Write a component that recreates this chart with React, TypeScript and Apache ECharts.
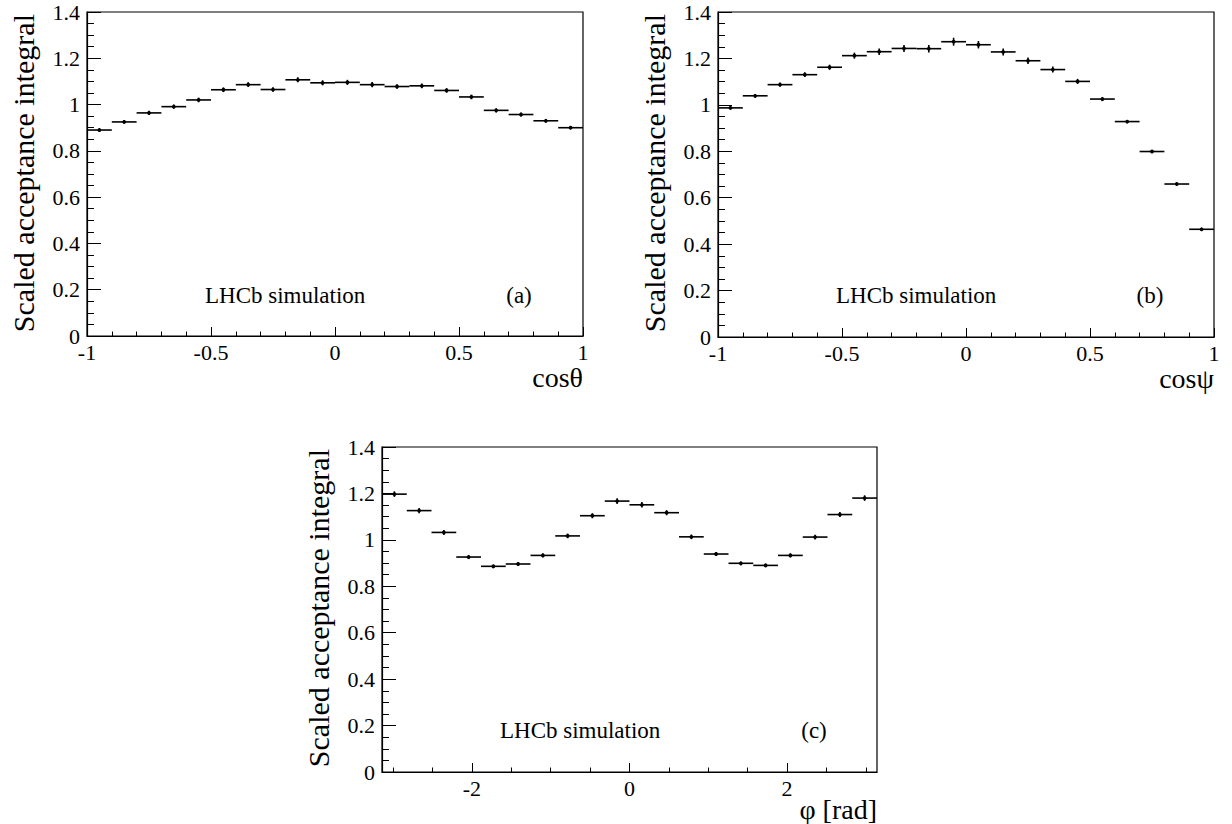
import React, { useEffect, useRef } from "react";
import * as echarts from "echarts";

const FONT = "'Liberation Serif', 'Times New Roman', Times, serif";

// ---- bins ----
const cosBinLow = [-1.0, -0.9, -0.8, -0.7, -0.6, -0.5, -0.4, -0.3, -0.2, -0.1, 0.0, 0.1, 0.2, 0.3, 0.4, 0.5, 0.6, 0.7, 0.8, 0.9];
const cosBinWidth = 0.1;
const phiNBins = 20;
const phiBinWidth = (2 * Math.PI) / phiNBins;
const phiBinLow = Array.from({ length: phiNBins }, (_, i) => -Math.PI + i * phiBinWidth);

// ---- values ----
const accCosTheta = [0.890, 0.925, 0.964, 0.991, 1.020, 1.064, 1.086, 1.065, 1.107, 1.094, 1.096, 1.086, 1.078, 1.081, 1.061, 1.033, 0.975, 0.957, 0.930, 0.900];
const errCosTheta = [0.008, 0.008, 0.009, 0.009, 0.010, 0.010, 0.010, 0.010, 0.011, 0.011, 0.011, 0.011, 0.010, 0.010, 0.010, 0.010, 0.009, 0.009, 0.008, 0.007];

const accCosPsi = [0.987, 1.039, 1.087, 1.130, 1.162, 1.212, 1.229, 1.243, 1.242, 1.272, 1.259, 1.228, 1.190, 1.152, 1.101, 1.025, 0.928, 0.799, 0.659, 0.464];
const errCosPsi = [0.007, 0.008, 0.009, 0.010, 0.011, 0.013, 0.014, 0.015, 0.016, 0.017, 0.016, 0.015, 0.014, 0.013, 0.011, 0.009, 0.007, 0.005, 0.004, 0.003];

const accPhi = [1.197, 1.126, 1.032, 0.926, 0.886, 0.896, 0.933, 1.017, 1.104, 1.167, 1.151, 1.117, 1.013, 0.939, 0.899, 0.890, 0.933, 1.012, 1.109, 1.180];
const errPhi = [0.012, 0.011, 0.011, 0.009, 0.008, 0.008, 0.009, 0.010, 0.011, 0.012, 0.012, 0.011, 0.010, 0.009, 0.008, 0.008, 0.009, 0.010, 0.011, 0.012];

// ---- ticks / labels ----
const yTicks = { min: 0, max: 1.4, interval: 0.2 };
const phiMajorTicks = [-2, 0, 2];
const phiMinorTicks = [-3, -2.5, -1.5, -1, -0.5, 0.5, 1, 1.5, 2.5, 3];

const yTitle = "Scaled acceptance integral";
const panelLabels = ["(a)", "(b)", "(c)"];
const xTitles = ["cos\u03b8", "cos\u03c8", "\u03c6 [rad]"];
const simText = "LHCb simulation";

// ---- layout ----
const panels = [
  { left: 87, top: 12, width: 496, height: 324, xTitleGap: 41 },
  { left: 718, top: 12, width: 496, height: 325, xTitleGap: 41 },
  { left: 382, top: 447, width: 495, height: 325, xTitleGap: 37 },
];

const LABEL_SIZE = 22;
const TITLE_SIZE = 28;
const Y_TITLE_SIZE = 30;

function binData(lows: number[], width: number, vals: number[], errs: number[]) {
  return lows.map((lo, i) => [lo, lo + width, vals[i], errs[i]]);
}

const renderItem = (params: any, api: any) => {
  const lo = api.value(0);
  const hi = api.value(1);
  const y = api.value(2);
  const e = api.value(3);
  const mid = (lo + hi) / 2;
  const p1 = api.coord([lo, y]);
  const p2 = api.coord([hi, y]);
  const pt = api.coord([mid, y]);
  const up = api.coord([mid, y + e]);
  const dn = api.coord([mid, y - e]);
  return {
    type: "group",
    children: [
      { type: "line", shape: { x1: p1[0], y1: p1[1], x2: p2[0], y2: p2[1] }, style: { stroke: "#000", lineWidth: 1.6 } },
      { type: "line", shape: { x1: pt[0], y1: up[1], x2: pt[0], y2: dn[1] }, style: { stroke: "#000", lineWidth: 1.6 } },
      { type: "circle", shape: { cx: pt[0], cy: pt[1], r: 1.9 }, style: { fill: "#000" } },
    ],
  };
};

const axisLineStyle = { show: true, onZero: false, lineStyle: { color: "#000", width: 1.2 } };

function cosXAxis(gridIndex: number) {
  return {
    type: "value",
    gridIndex,
    min: -1,
    max: 1,
    interval: 0.5,
    position: "bottom",
    axisLine: axisLineStyle,
    axisTick: { show: true, inside: true, length: 9, lineStyle: { color: "#000", width: 1 } },
    minorTick: { show: true, splitNumber: 5, length: 4.5, lineStyle: { color: "#000", width: 1 } },
    axisLabel: { color: "#000", fontFamily: FONT, fontSize: LABEL_SIZE, margin: 5, showMinLabel: true, showMaxLabel: true },
    splitLine: { show: false },
    minorSplitLine: { show: false },
  };
}

function accYAxis(gridIndex: number) {
  return {
    type: "value",
    gridIndex,
    min: yTicks.min,
    max: yTicks.max,
    interval: yTicks.interval,
    position: "left",
    axisLine: axisLineStyle,
    axisTick: { show: true, inside: true, length: 14, lineStyle: { color: "#000", width: 1 } },
    minorTick: { show: true, splitNumber: 4, length: 7, lineStyle: { color: "#000", width: 1 } },
    axisLabel: { color: "#000", fontFamily: FONT, fontSize: LABEL_SIZE, margin: 7, showMinLabel: true, showMaxLabel: true },
    splitLine: { show: false },
    minorSplitLine: { show: false },
  };
}

function buildGraphics() {
  const g: any[] = [];
  panels.forEach((p, i) => {
    g.push({
      type: "text",
      x: p.left - 64,
      y: p.top + 2,
      rotation: Math.PI / 2,
      style: {
        text: yTitle,
        fontFamily: FONT,
        fontSize: Y_TITLE_SIZE,
        fill: "#000",
        align: "right",
        verticalAlign: "middle",
      },
    });
    g.push({
      type: "text",
      x: p.left + p.width,
      y: p.top + p.height + p.xTitleGap,
      style: {
        text: xTitles[i],
        fontFamily: FONT,
        fontSize: TITLE_SIZE,
        fill: "#000",
        align: "right",
        verticalAlign: "middle",
      },
    });
    g.push({
      type: "text",
      x: p.left + 118,
      y: p.top + 283,
      style: {
        text: simText,
        fontFamily: FONT,
        fontSize: 23,
        fill: "#000",
        align: "left",
        verticalAlign: "middle",
      },
    });
    g.push({
      type: "text",
      x: p.left + 432,
      y: p.top + 283,
      style: {
        text: panelLabels[i],
        fontFamily: FONT,
        fontSize: 23,
        fill: "#000",
        align: "center",
        verticalAlign: "middle",
      },
    });
  });
  return g;
}

export default function App() {
  const ref = useRef<HTMLDivElement>(null);

  useEffect(() => {
    if (!ref.current) return;
    const chart = echarts.init(ref.current, null, { renderer: "svg" });

    const option: any = {
      animation: false,
      backgroundColor: "#fff",
      textStyle: { fontFamily: FONT },
      grid: panels.map((p) => ({
        left: p.left,
        top: p.top,
        width: p.width,
        height: p.height,
        show: true,
        borderColor: "#000",
        borderWidth: 1.2,
        backgroundColor: "transparent",
        containLabel: false,
      })),
      xAxis: [
        cosXAxis(0),
        cosXAxis(1),
        {
          type: "value",
          gridIndex: 2,
          min: -Math.PI,
          max: Math.PI,
          position: "bottom",
          axisLine: axisLineStyle,
          axisTick: { show: true, inside: true, length: 9, customValues: phiMajorTicks, lineStyle: { color: "#000", width: 1 } },
          axisLabel: { color: "#000", fontFamily: FONT, fontSize: LABEL_SIZE, margin: 5, customValues: phiMajorTicks },
          splitLine: { show: false },
        },
        {
          type: "value",
          gridIndex: 2,
          min: -Math.PI,
          max: Math.PI,
          position: "bottom",
          offset: 0,
          axisLine: { show: false, onZero: false },
          axisTick: { show: true, inside: true, length: 4.5, customValues: phiMinorTicks, lineStyle: { color: "#000", width: 1 } },
          axisLabel: { show: false },
          splitLine: { show: false },
        },
      ],
      yAxis: [accYAxis(0), accYAxis(1), accYAxis(2)],
      series: [
        {
          type: "custom",
          xAxisIndex: 0,
          yAxisIndex: 0,
          renderItem,
          data: binData(cosBinLow, cosBinWidth, accCosTheta, errCosTheta),
          encode: { x: [0, 1], y: 2 },
          clip: false,
        },
        {
          type: "custom",
          xAxisIndex: 1,
          yAxisIndex: 1,
          renderItem,
          data: binData(cosBinLow, cosBinWidth, accCosPsi, errCosPsi),
          encode: { x: [0, 1], y: 2 },
          clip: false,
        },
        {
          type: "custom",
          xAxisIndex: 2,
          yAxisIndex: 2,
          renderItem,
          data: binData(phiBinLow, phiBinWidth, accPhi, errPhi),
          encode: { x: [0, 1], y: 2 },
          clip: false,
        },
      ],
      graphic: buildGraphics(),
    };

    chart.setOption(option);
    return () => {
      chart.dispose();
    };
  }, []);

  return (
    <div
      ref={ref}
      style={{ position: "fixed", left: 0, top: 0, width: 1232, height: 824, background: "#fff" }}
    />
  );
}
